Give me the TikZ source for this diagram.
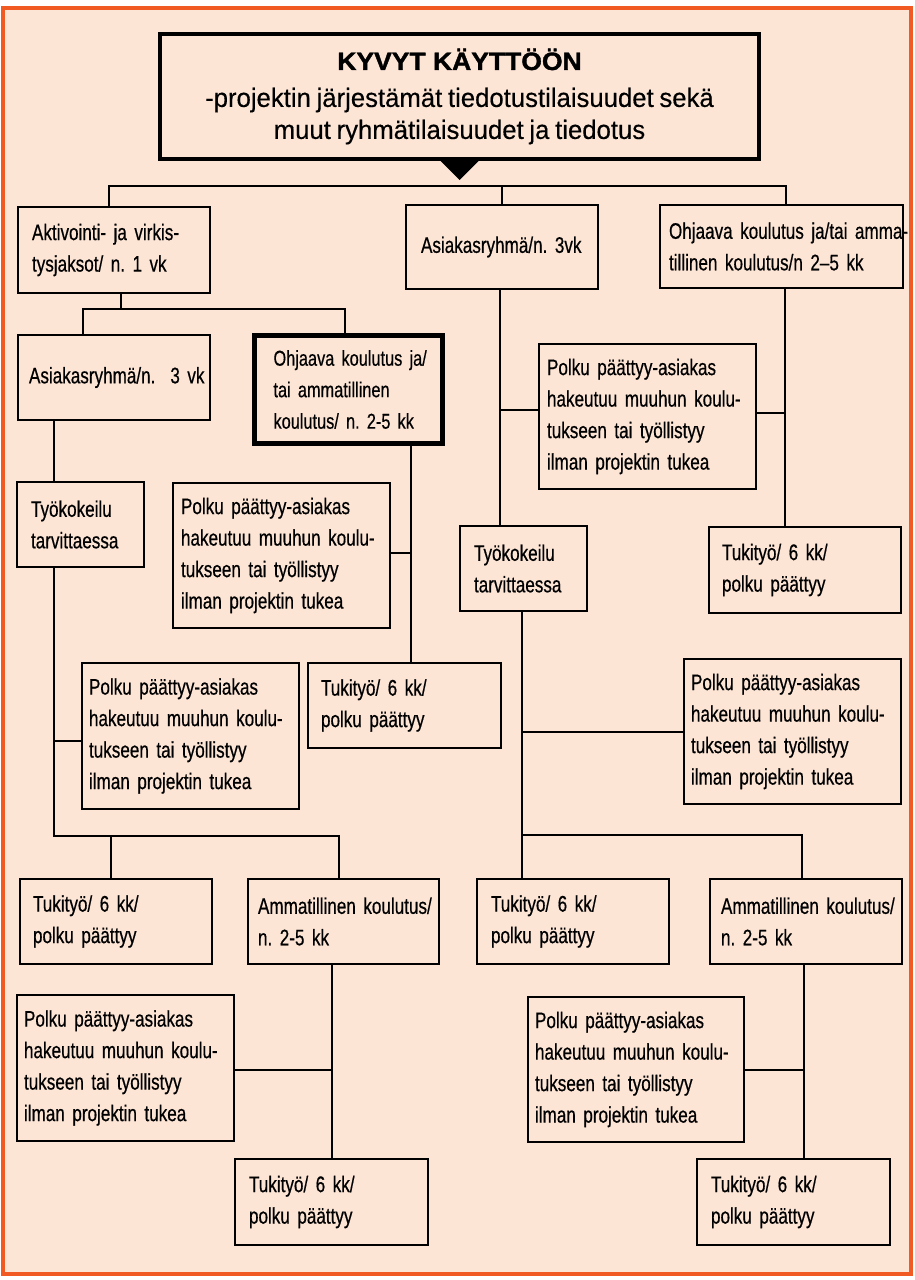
\documentclass[tikz,border=0pt]{standalone}
\usepackage{fontspec}
\newfontfamily\boxf[FakeStretch=0.76, WordSpace=0.65, FakeBold=0.5]{Liberation Sans}
\newfontfamily\topf[FakeStretch=0.97, WordSpace=0.8, FakeBold=0.4]{Liberation Sans}
\newfontfamily\titlef[FakeStretch=1.06, FakeBold=1.5]{Liberation Sans}
\definecolor{peach}{HTML}{FDE5D6}
\definecolor{orangeframe}{HTML}{F15A22}
\frenchspacing
\newcommand\polkutext{\mbox{Polku päättyy-asiakas}\\\mbox{hakeutuu muuhun koulu-}\\\mbox{tukseen tai työllistyy}\\\mbox{ilman projektin tukea}}
\newcommand\tukitext{\mbox{Tukityö/ 6 kk/}\\\mbox{polku päättyy}}
\newcommand\tyotext{\mbox{Työkokeilu}\\\mbox{tarvittaessa}}
\newcommand\ammtext{\mbox{Ammatillinen koulutus/}\\\mbox{n. 2-5 kk}}
\begin{document}
\begin{tikzpicture}[x=1pt,y=-1pt,
  bx/.style={draw, line width=2pt, anchor=north west, inner ysep=0pt, align=left,
    font=\boxf\fontsize{22.5}{31.5}\selectfont},
  ln/.style={line width=2pt},
]
\useasboundingbox (0,0) rectangle (914,1280);
\draw[orangeframe, line width=4pt, fill=peach] (3,8) rectangle (911,1274);

% top box
\node[draw, line width=4pt, anchor=north west, minimum width=599pt, minimum height=125pt,
  inner ysep=0pt, align=center, font=\topf\fontsize{26.5}{32}\selectfont] (top) at (158,32)
  {{\titlef\bfseries\fontsize{25}{32}\selectfont KYVYT KÄYTTÖÖN}\\[5pt]
   -projektin järjestämät tiedotustilaisuudet sekä\\
   muut ryhmätilaisuudet ja tiedotus};
\fill ([xshift=-19pt]top.south) -- ([xshift=19pt]top.south) -- ([yshift=-19pt]top.south) -- cycle;

% level 1
\node[bx, minimum width=192pt, minimum height=86pt, inner xsep=14pt, text width=164pt] (akt) at (17,206)
  {\mbox{Aktivointi- ja virkis-}\\\mbox{tysjaksot/ n. 1 vk}};
\node[bx, minimum width=192pt, minimum height=84pt, inner xsep=15pt, text width=162pt] (asc) at (405,204)
  {\mbox{Asiakasryhmä/n. 3vk}};
\node[bx, minimum width=243pt, minimum height=83pt, inner xsep=9pt, text width=225pt] (ohjR) at (659,204)
  {\mbox{Ohjaava koulutus ja/tai amma-}\\\mbox{tillinen koulutus/n 2–5 kk}};

% level 2 left
\node[bx, minimum width=192pt, minimum height=85pt, inner xsep=11pt, text width=170pt] (asr) at (17,334)
  {\mbox{Asiakasryhmä/n.\ \ 3 vk}};
\node[bx, line width=5pt, minimum width=188pt, minimum height=108pt, inner xsep=19pt, text width=150pt,
  font=\boxf\fontsize{21.5}{31.5}\selectfont] (ohjT) at (252,333)
  {\mbox{Ohjaava koulutus ja/}\\\mbox{tai ammatillinen}\\\mbox{koulutus/ n. 2-5 kk}};

\node[bx, minimum width=127pt, minimum height=85pt, inner xsep=14pt, text width=99pt] (tyo1) at (16,481) {\tyotext};
\node[bx, minimum width=217pt, minimum height=145pt, inner xsep=8pt, text width=201pt] (polkuM) at (172,482) {\polkutext};
\node[bx, minimum width=193pt, minimum height=85pt, inner xsep=13pt, text width=167pt] (tuk2) at (307,662) {\tukitext};
\node[bx, minimum width=217pt, minimum height=146pt, inner xsep=7pt, text width=203pt] (polkuL2) at (81,662) {\polkutext};

% centre / right column
\node[bx, minimum width=217pt, minimum height=145pt, inner xsep=8pt, text width=201pt] (polkuU) at (538,343) {\polkutext};
\node[bx, minimum width=127pt, minimum height=85pt, inner xsep=14pt, text width=99pt] (tyo2) at (459,525) {\tyotext};
\node[bx, minimum width=192pt, minimum height=86pt, inner xsep=13pt, text width=166pt] (tuk3) at (708,526) {\tukitext};
\node[bx, minimum width=217pt, minimum height=145pt, inner xsep=7pt, text width=203pt] (polkuR) at (683,658) {\polkutext};

% bottom row
\node[bx, minimum width=192pt, minimum height=85pt, inner xsep=13pt, text width=166pt] (tuk1) at (19,878) {\tukitext};
\node[bx, minimum width=191pt, minimum height=85pt, inner xsep=10pt, text width=171pt] (amm1) at (247,878) {\ammtext};
\node[bx, minimum width=192pt, minimum height=85pt, inner xsep=14pt, text width=164pt] (tuk4) at (476,878) {\tukitext};
\node[bx, minimum width=192pt, minimum height=85pt, inner xsep=11pt, text width=170pt] (amm2) at (709,878) {\ammtext};
\node[bx, minimum width=217pt, minimum height=146pt, inner xsep=7pt, text width=203pt] (polkuBL) at (16,994) {\polkutext};
\node[bx, minimum width=193pt, minimum height=86pt, inner xsep=14pt, text width=165pt] (tuk5) at (234,1158) {\tukitext};
\node[bx, minimum width=216pt, minimum height=145pt, inner xsep=7pt, text width=202pt] (polkuBR) at (527,996) {\polkutext};
\node[bx, minimum width=193pt, minimum height=86pt, inner xsep=14pt, text width=165pt] (tuk6) at (696,1158) {\tukitext};

% connectors
\coordinate (a1) at (109,186); \coordinate (a2) at (786,186);
\draw[ln] (akt.north -| a1) |- (a2) -- (ohjR.north -| a2);
\draw[ln] (asc.north) -- (asc.north |- a1);

\coordinate (b1) at (121,309); \coordinate (b2) at (83,309); \coordinate (b3) at (345,309);
\draw[ln] (akt.south -| b1) -- (b1);
\draw[ln] (asr.north -| b2) |- (b3) -- (ohjT.north -| b3);

\coordinate (v1) at (54,836); \coordinate (c1) at (111,836); \coordinate (c2) at (339,836);
\draw[ln] (asr.south -| v1) -- (tyo1.north -| v1);
\draw[ln] (tyo1.south -| v1) |- (c2) -- (amm1.north -| c2);
\draw[ln] (c1) -- (tuk1.north -| c1);
\draw[ln] ([yshift=-5pt]polkuL2.west) -- ([yshift=-5pt]polkuL2.west -| v1);

\coordinate (v2) at (411,0);
\draw[ln] (ohjT.south -| v2) -- (tuk2.north -| v2);
\draw[ln] ([yshift=3pt]polkuM.east) -- ([yshift=3pt]polkuM.east -| v2);

\coordinate (v3) at (500,0); \coordinate (v4) at (785,0);
\draw[ln] (asc.south -| v3) -- (tyo2.north -| v3);
\draw[ln] ([yshift=7pt]polkuU.west) -- ([yshift=7pt]polkuU.west -| v3);
\draw[ln] ([yshift=4pt]polkuU.east) -- ([yshift=4pt]polkuU.east -| v4);
\draw[ln] (ohjR.south -| v4) -- (tuk3.north -| v4);

\coordinate (d1) at (522,835); \coordinate (d2) at (802,835);
\draw[ln] (tyo2.south -| d1) -- (tuk4.north -| d1);
\draw[ln] (d1) -- (d2) -- (amm2.north -| d2);
\draw[ln] (polkuR.west) -- (polkuR.west -| d1);

\coordinate (v5) at (332,0);
\draw[ln] (amm1.south -| v5) -- (tuk5.north -| v5);
\draw[ln] ([yshift=-2pt]polkuBL.east) -- ([yshift=-2pt]polkuBL.east -| v5);
\coordinate (v6) at (804,0);
\draw[ln] (amm2.south -| v6) -- (tuk6.north -| v6);
\draw[ln] (polkuBR.east) -- (polkuBR.east -| v6);
\end{tikzpicture}
\end{document}
